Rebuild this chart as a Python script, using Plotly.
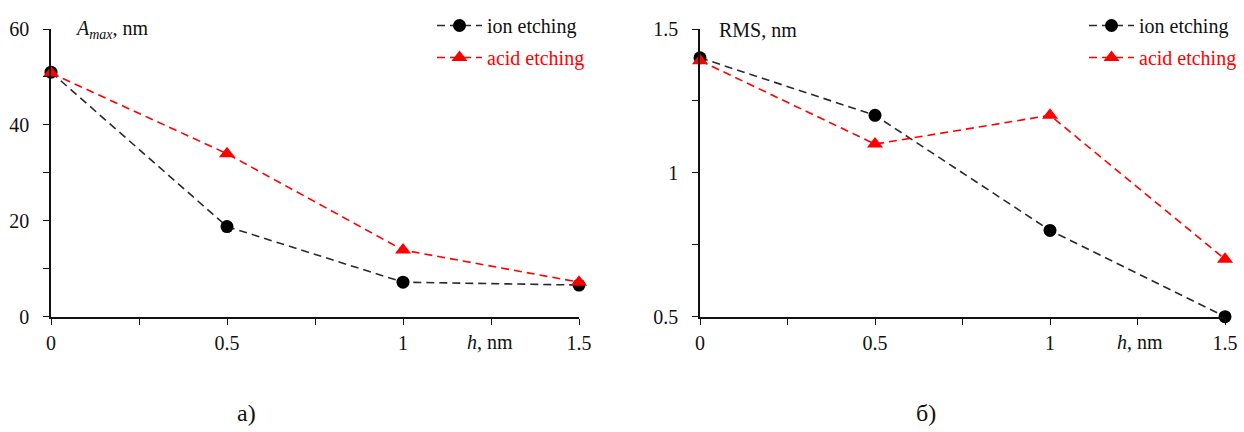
import plotly.graph_objects as go

h = [0, 0.5, 1, 1.5]
amax_ion = [51, 18.8, 7.2, 6.6]
amax_acid = [50.8, 34, 13.9, 7.2]
rms_ion = [1.4, 1.2, 0.8, 0.5]
rms_acid = [1.39, 1.1, 1.2, 0.7]

W, H = 1244, 432
FONT = "Times New Roman"
BLACK = "#111111"
LINE_BLACK = "#2a2a2a"
RED = "#ff0000"

fig = go.Figure()

def add(x, y, xa, ya, color, lcolor, sym, size, name, legend, grp):
    fig.add_trace(go.Scatter(
        x=x, y=y, xaxis=xa, yaxis=ya, mode="lines+markers",
        line=dict(color=lcolor, width=1.6, dash="8px,5px"),
        marker=dict(color=color, symbol=sym, size=size),
        name=name, legend=legend, legendgroup=grp, showlegend=True, cliponaxis=False))

acid_name = "<span style='color:#ff0000'>acid etching</span>"
add(h, amax_ion, "x", "y", "#000000", LINE_BLACK, "circle", 13, "ion etching", "legend", "a1")
add(h, amax_acid, "x", "y", RED, RED, "triangle-up", 14, acid_name, "legend", "a2")
add(h, rms_ion, "x2", "y2", "#000000", LINE_BLACK, "circle", 13, "ion etching", "legend2", "b1")
add(h, rms_acid, "x2", "y2", RED, RED, "triangle-up", 14, acid_name, "legend2", "b2")

ydom = [(H - 316.7) / H, (H - 29) / H]
axis_common = dict(showline=True, linewidth=1.6, linecolor=BLACK, ticks="outside",
                   ticklen=6, tickwidth=1.4, tickcolor=BLACK, showgrid=False, zeroline=False,
                   tickfont=dict(family=FONT, size=20, color=BLACK))

def xaxis(dom, anchor):
    return dict(domain=dom, range=[0, 1.5], anchor=anchor, dtick=0.5, tick0=0,
                ticklabelstandoff=1,
                minor=dict(dtick=0.25, tick0=0, ticks="outside", ticklen=6, tickwidth=1.4,
                           tickcolor=BLACK, showgrid=False),
                **axis_common)

def yaxis(rng, dt, anchor):
    return dict(domain=ydom, range=rng, anchor=anchor, dtick=dt, tick0=rng[0],
                ticklabelstandoff=10,
                minor=dict(dtick=dt / 2, tick0=rng[0], ticks="outside", ticklen=6, tickwidth=1.4,
                           tickcolor=BLACK, showgrid=False),
                **axis_common)

leg = dict(xanchor="left", yanchor="top", bgcolor="rgba(0,0,0,0)",
           font=dict(family=FONT, size=20, color=BLACK), itemwidth=45,
           tracegroupgap=3, borderwidth=0)

fig.update_layout(
    width=W, height=H, margin=dict(l=0, r=0, t=0, b=0, autoexpand=False),
    paper_bgcolor="white", plot_bgcolor="white",
    font=dict(family=FONT, size=20, color=BLACK),
    xaxis=xaxis([51 / W, 579 / W], "y"),
    yaxis=yaxis([0, 60], 20, "x"),
    xaxis2=xaxis([700 / W, 1225 / W], "y2"),
    yaxis2=yaxis([0.5, 1.5], 0.5, "x2"),
    legend=dict(x=432 / W, y=1 - 6 / H, **leg),
    legend2=dict(x=1084 / W, y=1 - 6 / H, **leg),
)

ann = [
    dict(text="<i>A</i><sub><i>max</i></sub>, nm", x=73, y=30),
    dict(text="RMS, nm", x=717, y=30),
    dict(text="<i>h</i>, nm", x=465, y=342),
    dict(text="<i>h</i>, nm", x=1115, y=342),
]
for a in ann:
    fig.add_annotation(text=a["text"], x=a["x"] / W, y=1 - a["y"] / H, xref="paper", yref="paper",
                       xanchor="left", yanchor="middle", showarrow=False,
                       font=dict(family=FONT, size=20, color=BLACK))
for txt, xc in [("а)", 247), ("б)", 926)]:
    fig.add_annotation(text=txt, x=xc / W, y=1 - 413 / H, xref="paper", yref="paper",
                       xanchor="center", yanchor="middle", showarrow=False,
                       font=dict(family=FONT, size=24, color=BLACK))

fig.write_html("out.html")
